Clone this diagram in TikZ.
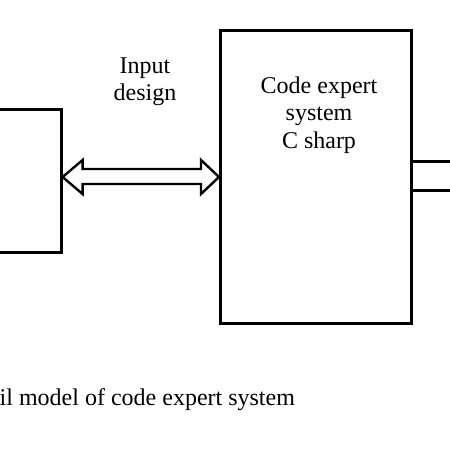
\documentclass[tikz,border=0pt]{standalone}
\usepackage{fontspec}
\setmainfont{Liberation Serif}
\usetikzlibrary{calc}
\begin{document}
\begin{tikzpicture}[x=1pt,y=-1pt,
  box/.style={draw,line width=2.6pt,inner sep=0pt,anchor=north west},
  lbl/.style={font=\fontsize{24}{27}\selectfont,inner sep=0pt,anchor=base},
  dblarrow/.style={draw,line width=2.4pt,line join=miter,fill=white}]
\useasboundingbox (0,0) rectangle (450,450);
\clip (0,0) rectangle (450,450);
% boxes
\node[box,minimum width=80pt,minimum height=143pt] (L) at (-20,108) {};
\node[box,minimum width=191pt,minimum height=293pt] (R) at (219,29) {};
\node[box,minimum width=60pt,minimum height=29pt] (S) at (410,160) {};
% double arrow between L and R
\coordinate (a1) at ($(L.east)!0!(L.east)$);
\coordinate (tl) at (L.east |- 0,177);
\coordinate (tr) at (R.west |- 0,177);
\draw[dblarrow]
  (tl) -- ($(tl)+(20,-17)$) -- ($(tl)+(20,-8)$) -- ($(tr)+(-18,-8)$)
  -- ($(tr)+(-18,-17)$) -- (tr) -- ($(tr)+(-18,17)$) -- ($(tr)+(-18,7)$)
  -- ($(tl)+(20,7)$) -- ($(tl)+(20,17)$) -- cycle;
% labels
\node[lbl] (in1) at (145,73) {Input};
\node[lbl] (in2) at (145,100) {design};
\node[lbl] (c1) at (319,93) {Code expert};
\node[lbl] (c2) at (319,120) {system};
\node[lbl] (c3) at (319,148) {C sharp};
\node[lbl,anchor=base west] (cap) at (-0.5,405) {il model of code expert system};
\end{tikzpicture}
\end{document}
